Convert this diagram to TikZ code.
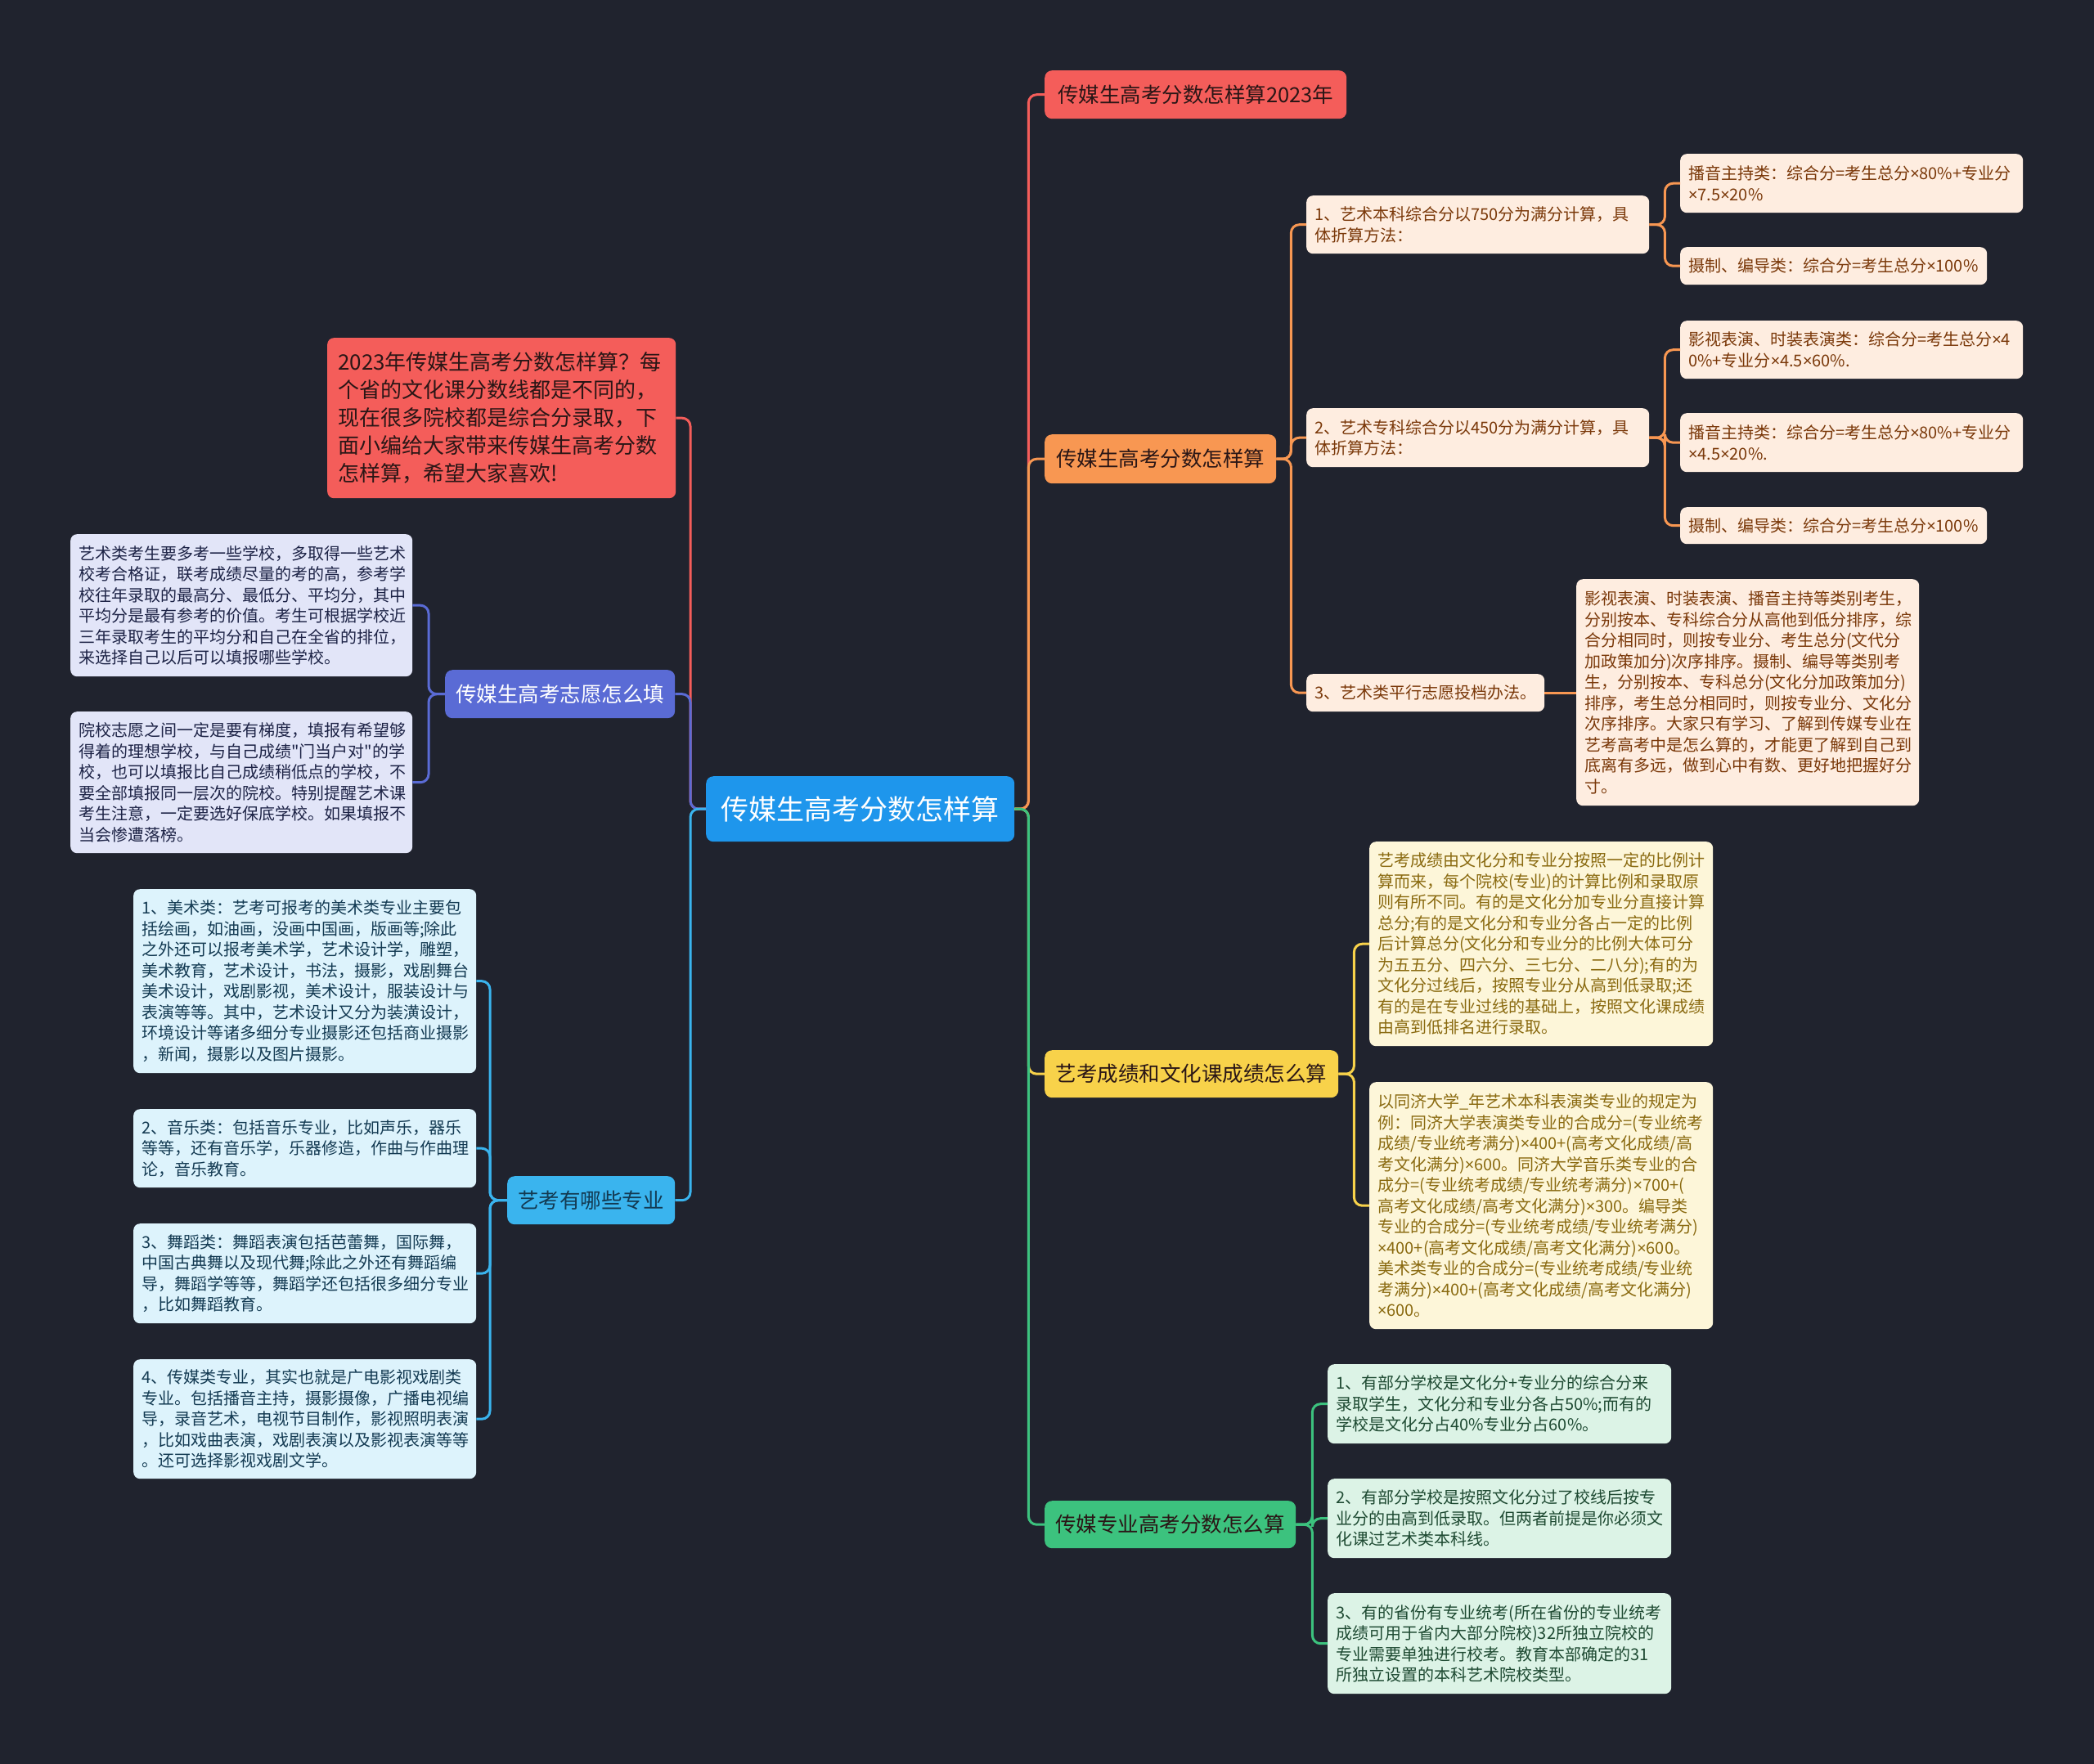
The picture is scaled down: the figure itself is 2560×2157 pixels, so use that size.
\documentclass[tikz,border=0pt]{standalone}
\usepackage{fontspec}
\setmainfont{Noto Sans CJK SC}
\newfontfamily\qfont{Noto Sans CJK SC}
\newfontfamily\latinfont{Noto Sans}
\newcommand\mytimes{{\latinfont ×}}
\newcommand\myquote{{\qfont\char34}}
\definecolor{bg}{HTML}{20232E}
\definecolor{rootc}{HTML}{1E96EC}
\definecolor{redc}{HTML}{F45D5A}
\definecolor{orc}{HTML}{F89752}
\definecolor{yelc}{HTML}{F8D24A}
\definecolor{grnc}{HTML}{3CC27E}
\definecolor{indc}{HTML}{5A6BD5}
\definecolor{lbc}{HTML}{3AB4EE}
\definecolor{peach}{HTML}{FEEDE0}
\definecolor{peachtx}{HTML}{7A3809}
\definecolor{lyel}{HTML}{FDF6D9}
\definecolor{lyeltx}{HTML}{8A6A10}
\definecolor{mint}{HTML}{DCF3E6}
\definecolor{minttx}{HTML}{1E4A32}
\definecolor{lav}{HTML}{E2E5F8}
\definecolor{lavtx}{HTML}{1D2346}
\definecolor{lcyan}{HTML}{DDF3FC}
\definecolor{lcyantx}{HTML}{133A52}
\definecolor{darktx}{HTML}{2A1616}
\begin{document}
\begin{tikzpicture}[x=1pt,y=-1pt,
  base/.style={anchor=north west, rounded corners=8pt, inner ysep=0pt, inner xsep=10pt, align=left},
  leaf/.style={base, font=\fontsize{20}{25.5}\selectfont},
  mainnode/.style={base, align=center, rounded corners=9pt, inner xsep=0pt, font=\fontsize{25.5}{30}\selectfont},
  conn/.style={line width=3pt, rounded corners=10pt}]
\fill[bg] (0,0) rectangle (2560,2157);
\useasboundingbox (0,0) rectangle (2560,2157);

% root
\node[mainnode, fill=rootc, text=white, minimum width=377, minimum height=80, font=\fontsize{34}{40}\selectfont] (root) at (863,949) {传媒生高考分数怎样算};

% right main branches
\node[mainnode, fill=redc, text=darktx, minimum width=369, minimum height=59] (r1) at (1277,86) {传媒生高考分数怎样算2023年};
\node[mainnode, fill=orc, text=darktx, minimum width=283, minimum height=60] (r2) at (1277,531) {传媒生高考分数怎样算};
\node[mainnode, fill=yelc, text=darktx, minimum width=359, minimum height=58] (r3) at (1277,1284) {艺考成绩和文化课成绩怎么算};
\node[mainnode, fill=grnc, text=darktx, minimum width=307, minimum height=58] (r4) at (1277,1835) {传媒专业高考分数怎么算};

% left main branches
\node[base, fill=redc, text=darktx, inner xsep=13pt, text width=400, minimum height=196, font=\fontsize{26}{34}\selectfont] (l1) at (400,413) {2023年传媒生高考分数怎样算？每\\个省的文化课分数线都是不同的，\\现在很多院校都是综合分录取，下\\面小编给大家带来传媒生高考分数\\怎样算，希望大家喜欢!};
\node[mainnode, fill=indc, text=white, minimum width=281, minimum height=59] (l2) at (544,819) {传媒生高考志愿怎么填};
\node[mainnode, fill=lbc, text=lcyantx, minimum width=205, minimum height=59] (l3) at (620,1438) {艺考有哪些专业};

% R2 subtree
\node[leaf, fill=peach, text=peachtx, text width=399, minimum height=71] (r2a) at (1597,239) {1、艺术本科综合分以750分为满分计算，具\\体折算方法：};
\node[leaf, fill=peach, text=peachtx, text width=399, minimum height=72] (r2a1) at (2054,188) {播音主持类：综合分=考生总分\mytimes80\%+专业分\\\mytimes7.5\mytimes20\%};
\node[leaf, fill=peach, text=peachtx, text width=355, minimum height=46] (r2a2) at (2054,302) {摄制、编导类：综合分=考生总分\mytimes100\%};
\node[leaf, fill=peach, text=peachtx, text width=399, minimum height=72] (r2b) at (1597,499) {2、艺术专科综合分以450分为满分计算，具\\体折算方法：};
\node[leaf, fill=peach, text=peachtx, text width=399, minimum height=71] (r2b1) at (2054,392) {影视表演、时装表演类：综合分=考生总分\mytimes4\\0\%+专业分\mytimes4.5\mytimes60\%.};
\node[leaf, fill=peach, text=peachtx, text width=399, minimum height=72] (r2b2) at (2054,505) {播音主持类：综合分=考生总分\mytimes80\%+专业分\\\mytimes4.5\mytimes20\%.};
\node[leaf, fill=peach, text=peachtx, text width=355, minimum height=45] (r2b3) at (2054,620) {摄制、编导类：综合分=考生总分\mytimes100\%};
\node[leaf, fill=peach, text=peachtx, text width=271, minimum height=46] (r2c) at (1597,824) {3、艺术类平行志愿投档办法。};
\node[leaf, fill=peach, text=peachtx, text width=399, minimum height=277] (r2c1) at (1927,708) {影视表演、时装表演、播音主持等类别考生，\\分别按本、专科综合分从高他到低分排序，综\\合分相同时，则按专业分、考生总分(文代分\\加政策加分)次序排序。摄制、编导等类别考\\生，分别按本、专科总分(文化分加政策加分)\\排序，考生总分相同时，则按专业分、文化分\\次序排序。大家只有学习、了解到传媒专业在\\艺考高考中是怎么算的，才能更了解到自己到\\底离有多远，做到心中有数、更好地把握好分\\寸。};

% R3 subtree
\node[leaf, fill=lyel, text=lyeltx, text width=400, minimum height=250] (r3a) at (1674,1029) {艺考成绩由文化分和专业分按照一定的比例计\\算而来，每个院校(专业)的计算比例和录取原\\则有所不同。有的是文化分加专业分直接计算\\总分;有的是文化分和专业分各占一定的比例\\后计算总分(文化分和专业分的比例大体可分\\为五五分、四六分、三七分、二八分);有的为\\文化分过线后，按照专业分从高到低录取;还\\有的是在专业过线的基础上，按照文化课成绩\\由高到低排名进行录取。};
\node[leaf, fill=lyel, text=lyeltx, text width=400, minimum height=302] (r3b) at (1674,1323) {以同济大学\_年艺术本科表演类专业的规定为\\例：同济大学表演类专业的合成分=(专业统考\\成绩/专业统考满分)\mytimes400+(高考文化成绩/高\\考文化满分)\mytimes600。同济大学音乐类专业的合\\成分=(专业统考成绩/专业统考满分)\mytimes700+(\\高考文化成绩/高考文化满分)\mytimes300。编导类\\专业的合成分=(专业统考成绩/专业统考满分)\\\mytimes400+(高考文化成绩/高考文化满分)\mytimes600。\\美术类专业的合成分=(专业统考成绩/专业统\\考满分)\mytimes400+(高考文化成绩/高考文化满分)\\\mytimes600。};

% R4 subtree
\node[leaf, fill=mint, text=minttx, text width=400, minimum height=97] (r4a) at (1623,1668) {1、有部分学校是文化分+专业分的综合分来\\录取学生，文化分和专业分各占50\%;而有的\\学校是文化分占40\%专业分占60\%。};
\node[leaf, fill=mint, text=minttx, text width=400, minimum height=97] (r4b) at (1623,1808) {2、有部分学校是按照文化分过了校线后按专\\业分的由高到低录取。但两者前提是你必须文\\化课过艺术类本科线。};
\node[leaf, fill=mint, text=minttx, text width=400, minimum height=123] (r4c) at (1623,1948) {3、有的省份有专业统考(所在省份的专业统考\\成绩可用于省内大部分院校)32所独立院校的\\专业需要单独进行校考。教育本部确定的31\\所独立设置的本科艺术院校类型。};

% L2 subtree
\node[leaf, fill=lav, text=lavtx, text width=398, minimum height=174] (l2a) at (86,653) {艺术类考生要多考一些学校，多取得一些艺术\\校考合格证，联考成绩尽量的考的高，参考学\\校往年录取的最高分、最低分、平均分，其中\\平均分是最有参考的价值。考生可根据学校近\\三年录取考生的平均分和自己在全省的排位，\\来选择自己以后可以填报哪些学校。};
\node[leaf, fill=lav, text=lavtx, text width=398, minimum height=173] (l2b) at (86,870) {院校志愿之间一定是要有梯度，填报有希望够\\得着的理想学校，与自己成绩\myquote 门当户对\myquote 的学\\校，也可以填报比自己成绩稍低点的学校，不\\要全部填报同一层次的院校。特别提醒艺术课\\考生注意，一定要选好保底学校。如果填报不\\当会惨遭落榜。};

% L3 subtree
\node[leaf, fill=lcyan, text=lcyantx, text width=399, minimum height=225] (l3a) at (163,1087) {1、美术类：艺考可报考的美术类专业主要包\\括绘画，如油画，没画中国画，版画等;除此\\之外还可以报考美术学，艺术设计学，雕塑，\\美术教育，艺术设计，书法，摄影，戏剧舞台\\美术设计，戏剧影视，美术设计，服装设计与\\表演等等。其中，艺术设计又分为装潢设计，\\环境设计等诸多细分专业摄影还包括商业摄影\\，新闻，摄影以及图片摄影。};
\node[leaf, fill=lcyan, text=lcyantx, text width=399, minimum height=96] (l3b) at (163,1356) {2、音乐类：包括音乐专业，比如声乐，器乐\\等等，还有音乐学，乐器修造，作曲与作曲理\\论，音乐教育。};
\node[leaf, fill=lcyan, text=lcyantx, text width=399, minimum height=122] (l3c) at (163,1496) {3、舞蹈类：舞蹈表演包括芭蕾舞，国际舞，\\中国古典舞以及现代舞;除此之外还有舞蹈编\\导，舞蹈学等等，舞蹈学还包括很多细分专业\\，比如舞蹈教育。};
\node[leaf, fill=lcyan, text=lcyantx, text width=399, minimum height=146] (l3d) at (163,1662) {4、传媒类专业，其实也就是广电影视戏剧类\\专业。包括播音主持，摄影摄像，广播电视编\\导，录音艺术，电视节目制作，影视照明表演\\，比如戏曲表演，戏剧表演以及影视表演等等\\。还可选择影视戏剧文学。};

% connectors: root right
\draw[conn, redc] (root.east) -- ++(17,0) |- (r1.west);
\draw[conn, orc] (root.east) -- ++(17,0) |- (r2.west);
\draw[conn, yelc] (root.east) -- ++(17,0) |- (r3.west);
\draw[conn, grnc] (root.east) -- ++(17,0) |- (r4.west);
% root left
\draw[conn, redc] (root.west) -- ++(-19,0) |- (l1.east);
\draw[conn, indc] (root.west) -- ++(-19,0) |- (l2.east);
\draw[conn, lbc] (root.west) -- ++(-19,0) |- (l3.east);
% R2
\foreach \c in {r2a,r2b,r2c} \draw[conn, orc] (r2.east) -- ++(18,0) |- (\c.west);
\foreach \c in {r2a1,r2a2} \draw[conn, orc] (r2a.east) -- ++(19,0) |- (\c.west);
\foreach \c in {r2b1,r2b2,r2b3} \draw[conn, orc] (r2b.east) -- ++(19,0) |- (\c.west);
\draw[conn, orc] (r2c.east) -- (r2c.east -| r2c1.west);
% R3
\foreach \c in {r3a,r3b} \draw[conn, yelc] (r3.east) -- ++(19,0) |- (\c.west);
% R4
\foreach \c in {r4a,r4b,r4c} \draw[conn, grnc] (r4.east) -- ++(20,0) |- (\c.west);
% L2
\foreach \c in {l2a,l2b} \draw[conn, indc] (l2.west) -- ++(-20,0) |- (\c.east);
% L3
\foreach \c in {l3a,l3b,l3c,l3d} \draw[conn, lbc] (l3.west) -- ++(-21,0) |- (\c.east);
\end{tikzpicture}
\end{document}
